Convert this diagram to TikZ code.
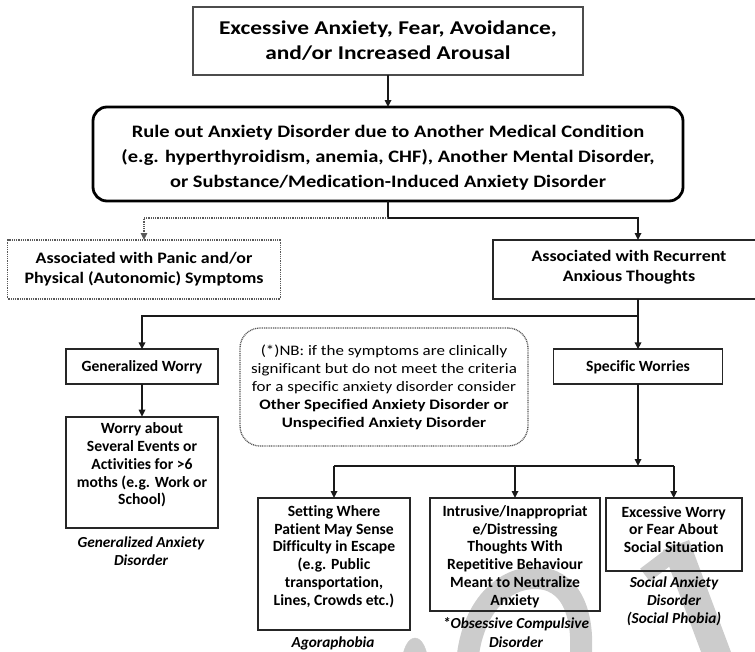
\documentclass[tikz,border=0pt]{standalone}
\usepackage{fontspec}
\setmainfont[Ligatures=NoCommon]{Carlito}
\newfontfamily\wideA[FakeStretch=1.2,Ligatures=NoCommon]{Carlito}
\newfontfamily\wideB[FakeStretch=1.17,Ligatures=NoCommon]{Carlito}
\newfontfamily\wideC[FakeStretch=1.12,Ligatures=NoCommon]{Carlito}
\newfontfamily\wideD[FakeStretch=1.17,Ligatures=NoCommon]{Carlito}
\usetikzlibrary{arrows.meta}
\begin{document}
\begin{tikzpicture}[x=1pt,y=-1pt,
  every node/.style={inner sep=0pt, outer sep=0pt},
  frame/.style={draw=black!85, line width=1.7pt},
  dotframe/.style={draw=black!65, line width=1.3pt, dash pattern=on 1pt off 0.8pt},
  bx/.style={align=center, font=\fontsize{15.6}{17.8}\selectfont\bfseries},
  caption/.style={align=center, font=\fontsize{15.3}{18.2}\selectfont\bfseries\itshape},
  link/.style={line width=1.6pt, draw=black!90},
  arr/.style={link, -{Triangle[length=7pt,width=6.5pt]}},
  dotarr/.style={line width=1.3pt, draw=black!65, dash pattern=on 1pt off 0.8pt,
    -{Triangle[length=7pt,width=6.5pt]}},
  wm/.style={draw=black!20, fill=black!20}
]
\useasboundingbox (0,0) rectangle (755,651);
\clip (0,0) rectangle (755,651);

% faint background lettering
\fill[wm] (415,665) ellipse [x radius=13pt, y radius=27pt];
\draw[wm, fill=none, line width=22pt] (467,665) .. controls (470,612) and (500,578) .. (535,578) .. controls (570,578) and (586,612) .. (580,665);
\draw[wm, line width=28pt] (676,545) -- (722,668);
\draw[wm, line width=16pt] (678,550) -- (645,575);

% top level
\node[frame, draw=black!70, line width=1.3pt, minimum width=390pt, minimum height=68pt,
  align=center, font=\wideA\fontsize{19.5}{25}\selectfont\bfseries] (top) at (388,41)
  {Excessive Anxiety, Fear, Avoidance,\\and/or Increased Arousal};

\node[draw=black, line width=2.8pt, rounded corners=14pt, minimum width=590pt,
  minimum height=94pt] (rule) at (388,154) {};
\node[align=center, font=\wideB\fontsize{17.5}{24.8}\selectfont\bfseries] (ruletxt) at (388,158)
  {Rule out Anxiety Disorder due to Another Medical Condition\\
   (e.g. hyperthyroidism, anemia, CHF), Another Mental Disorder,\\
   or Substance/Medication-Induced Anxiety Disorder};

\draw[arr] (top.south) -- (rule.north);

% second level
\node[dotframe, minimum width=273pt, minimum height=59pt, align=center,
  font=\wideC\fontsize{16}{20}\selectfont\bfseries] (panic) at (144,269.5)
  {Associated with Panic and/or\\Physical (Autonomic) Symptoms};

\node[frame, minimum width=290pt, minimum height=59pt] (recur) at (638,269.5) {};
\node[align=center, font=\wideC\fontsize{16}{20}\selectfont\bfseries] (recurtxt) at (629,267)
  {Associated with Recurrent\\Anxious Thoughts};

\coordinate (split) at (388,218);
\draw[link] (rule.south) -- (split);
\draw[dotarr] (split) -| (panic.north);
\draw[arr] (split) -| (recur.north);

% worry branches
\node[frame, minimum width=152pt, minimum height=35pt, bx] (genw) at (142,366.8) {Generalized Worry};
\node[frame, minimum width=169pt, minimum height=35pt, bx] (spec) at (638,366.8) {Specific Worries};

\coordinate (fork) at (638,316);
\draw[link] (recur.south) -- (fork);
\draw[arr] (fork) -| (genw.north);
\draw[arr] (fork) -- (spec.north);

\node[frame, minimum width=152pt, minimum height=111.6pt] (worry) at (142,472.5) {};
\node[bx] (worrytxt) at (142,465)
  {Worry about\\Several Events or\\Activities for >6\\moths (e.g. Work or\\School)};
\draw[arr] (genw.south) -- (worry.north);
\node[caption] (gadcap) at (141,551) {Generalized Anxiety\\Disorder};

% note
\node[dotframe, rounded corners=20pt, minimum width=288pt, minimum height=118pt] (nb) at (384,387) {};
\node[align=center, font=\wideD\fontsize{14.5}{18.1}\selectfont] (nbtxt) at (384,387.5)
  {(*)NB: if the symptoms are clinically\\
   significant but do not meet the criteria\\
   for a specific anxiety disorder consider\\
   \textbf{Other Specified Anxiety Disorder or}\\
   \textbf{Unspecified Anxiety Disorder}};

% specific worries
\node[frame, minimum width=152pt, minimum height=132pt] (setting) at (334,564) {};
\node[bx] (settingtxt) at (334,556.5)
  {Setting Where\\Patient May Sense\\Difficulty in Escape\\(e.g. Public\\transportation,\\Lines, Crowds etc.)};

\node[frame, minimum width=170pt, minimum height=113pt] (intr) at (515,554.5) {};
\node[bx] (intrtxt) at (515,556.5)
  {Intrusive/Inappropriat\\e/Distressing\\Thoughts With\\Repetitive Behaviour\\Meant to Neutralize\\Anxiety};

\node[frame, minimum width=136pt, minimum height=73pt] (excess) at (673.7,534.5) {};
\node[bx] (excesstxt) at (673.7,529.5)
  {Excessive Worry\\or Fear About\\Social Situation};

\coordinate (fork2) at (638,466);
\draw[arr] (spec.south) -- (fork2);
\draw[link] (setting.north |- fork2) -- (excess.north |- fork2);
\draw[arr] (setting.north |- fork2) -- (setting.north);
\draw[arr] (intr.north |- fork2) -- (intr.north);
\draw[arr] (excess.north |- fork2) -- (excess.north);

\node[caption] (agocap) at (333,643) {Agoraphobia};
\node[caption] (ocdcap) at (516,632.5) {*Obsessive Compulsive\\Disorder};
\node[caption] (sadcap) at (674,601) {Social Anxiety\\Disorder\\(Social Phobia)};
\end{tikzpicture}
\end{document}
